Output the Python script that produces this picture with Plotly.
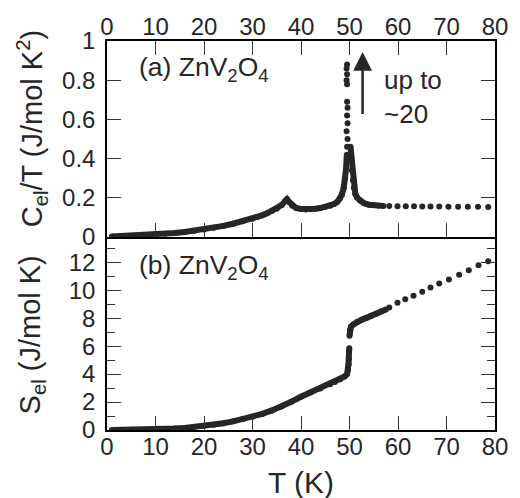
import plotly.graph_objects as go

# ---- data ----
# (a) C_el/T, dense low-T branch up to the transition
ct_T = [1, 3, 5, 7, 10, 12, 14, 16, 18, 20, 22, 24, 26, 28, 30, 31, 32, 33, 34, 35, 36,
        36.7, 37.1, 37.6, 38.2, 39.0, 40.0, 41.0, 42.0, 43.0, 44.0, 45.0, 46.0, 46.8,
        47.5, 48.0, 48.4, 48.8, 49.1, 49.3, 49.45]
ct_V = [0.003, 0.005, 0.007, 0.009, 0.013, 0.017, 0.021, 0.026, 0.032, 0.039, 0.047,
        0.057, 0.068, 0.080, 0.094, 0.102, 0.111, 0.121, 0.133, 0.145, 0.163,
        0.183, 0.193, 0.178, 0.160, 0.148, 0.143, 0.141, 0.142, 0.144, 0.148, 0.153,
        0.160, 0.168, 0.180, 0.195, 0.215, 0.25, 0.30, 0.35, 0.42]
# isolated points near the peak
pk_T = [49.5, 49.6, 49.4, 49.6, 49.5, 49.6, 49.5, 49.5, 49.4, 49.5, 49.4, 49.5]
pk_V = [0.46, 0.50, 0.54, 0.58, 0.62, 0.66, 0.69, 0.78, 0.80, 0.83, 0.86, 0.88]
# high-T branch, dense part
hb_T = [50.2, 50.4, 50.5, 50.7, 50.9, 51.2, 51.6, 52.2, 53.0, 54.0, 55.0, 56.0, 57.0]
hb_V = [0.46, 0.40, 0.34, 0.29, 0.25, 0.22, 0.20, 0.185, 0.172, 0.165, 0.162, 0.160, 0.159]
# sparse points at high T
sp_T = [58.2, 59.9, 61.6, 63.3, 65.0, 66.7, 68.5, 70.4, 72.4, 74.4, 76.5, 78.6]
sp_V = [0.158, 0.157, 0.157, 0.157, 0.156, 0.156, 0.156, 0.155, 0.155, 0.154, 0.154, 0.153]

# (b) S_el
s_T = [1, 3, 5, 8, 10, 12, 14, 16, 18, 20, 22, 24, 26, 28, 30, 32, 34, 36, 38, 40, 42,
       44, 46, 47, 48, 49, 49.5, 49.7, 49.8, 49.85, 49.9, 49.95]
s_V = [0.0, 0.005, 0.01, 0.02, 0.04, 0.07, 0.10, 0.15, 0.21, 0.28, 0.37, 0.48, 0.62,
       0.78, 0.95, 1.15, 1.40, 1.68, 2.02, 2.38, 2.68, 2.97, 3.27, 3.44, 3.62, 3.82,
       4.0, 4.3, 4.7, 5.1, 5.5, 5.85]
s2_T = [50.0, 50.1, 50.3, 50.8, 51.5, 52.5, 53.5, 54.5, 55.5, 56.5, 57.5]
s2_V = [6.75, 7.15, 7.38, 7.55, 7.72, 7.88, 8.02, 8.17, 8.32, 8.47, 8.62]
s3_T = [58.2, 59.9, 61.5, 63.2, 65.0, 66.7, 68.5, 70.5, 72.6, 74.6, 76.6, 78.6]
s3_V = [8.76, 9.10, 9.36, 9.60, 9.88, 10.19, 10.48, 10.76, 11.10, 11.43, 11.79, 12.07]

x_ticks = [0, 10, 20, 30, 40, 50, 60, 70, 80]

INK = "#262626"
FONT = "Liberation Sans, Arial, Helvetica, sans-serif"

fig = go.Figure()

def dense(x, y, xa, ya):
    fig.add_trace(go.Scatter(x=x, y=y, xaxis=xa, yaxis=ya, mode="lines+markers",
                             line=dict(color=INK, width=6),
                             marker=dict(color=INK, size=6), showlegend=False))

def dots(x, y, xa, ya):
    fig.add_trace(go.Scatter(x=x, y=y, xaxis=xa, yaxis=ya, mode="markers",
                             marker=dict(color=INK, size=6), showlegend=False))

dense(ct_T, ct_V, "x", "y")
dots(pk_T, pk_V, "x", "y")
dense(hb_T, hb_V, "x", "y")
dots(sp_T, sp_V, "x", "y")
dense(s_T, s_V, "x2", "y2")
dense(s2_T, s2_V, "x2", "y2")
dots(s3_T, s3_V, "x2", "y2")

SPLIT = 0.496
axcommon = dict(showline=True, linecolor="black", linewidth=1.5, ticks="inside",
                ticklen=14, tickwidth=1.3, tickcolor="#333", showgrid=False,
                zeroline=False, tickfont=dict(family=FONT, size=24, color=INK))

fig.update_layout(
    width=520, height=498,
    margin=dict(l=107, r=17, t=41, b=68),
    paper_bgcolor="white", plot_bgcolor="white",
    font=dict(family=FONT, color=INK),
    xaxis=dict(axcommon, domain=[0, 1], anchor="y", side="top", range=[0, 80],
               tickvals=x_ticks, mirror="ticks", ticklabelstandoff=-5),
    yaxis=dict(axcommon, domain=[SPLIT, 1], anchor="x", range=[0, 1], dtick=0.2,
               mirror="ticks", ticklabelstandoff=5),
    xaxis2=dict(axcommon, domain=[0, 1], anchor="y2", range=[0, 80],
                tickvals=x_ticks, mirror=False, ticklabelstandoff=-6),
    yaxis2=dict(axcommon, domain=[0, SPLIT], anchor="x2", range=[0, 13.8], dtick=2,
                mirror="ticks", ticklabelstandoff=5,
                minor=dict(dtick=1, ticks="inside", ticklen=8, tickcolor="#333",
                           tickwidth=1.3)),
)

ann = []
ann.append(dict(text="C<sub>el</sub>/T (J/mol K<sup>2</sup>)", xref="paper", yref="paper",
                x=-0.194, y=0.775, textangle=-90, showarrow=False,
                xanchor="center", yanchor="middle",
                font=dict(family=FONT, size=29, color=INK)))
ann.append(dict(text="S<sub>el</sub> (J/mol K)", xref="paper", yref="paper",
                x=-0.194, y=0.245, textangle=-90, showarrow=False,
                xanchor="center", yanchor="middle",
                font=dict(family=FONT, size=29, color=INK)))
ann.append(dict(text="T (K)", xref="paper", yref="paper", x=0.5, y=-0.134,
                showarrow=False, xanchor="center", yanchor="middle",
                font=dict(family=FONT, size=30, color=INK)))
ann.append(dict(text="(a) ZnV<sub>2</sub>O<sub>4</sub>", xref="paper", yref="paper",
                x=0.078, y=0.928, showarrow=False, xanchor="left", yanchor="middle",
                font=dict(family=FONT, size=26.5, color=INK)))
ann.append(dict(text="(b) ZnV<sub>2</sub>O<sub>4</sub>", xref="paper", yref="paper",
                x=0.078, y=0.418, showarrow=False, xanchor="left", yanchor="middle",
                font=dict(family=FONT, size=26.5, color=INK)))
ann.append(dict(text="up to<br>~20", xref="x", yref="y", x=56.8, y=0.714,
                showarrow=False, xanchor="left", yanchor="middle", align="left",
                font=dict(family=FONT, size=26, color=INK)))
ann.append(dict(text="", xref="x", yref="y", x=52.7, y=0.944, ax=52.7, ay=0.62,
                axref="x", ayref="y", showarrow=True, arrowhead=2, arrowsize=1.5,
                arrowwidth=2.5, arrowcolor=INK))
fig.update_layout(annotations=ann)

fig.write_html("out.html", config={"displayModeBar": False},
               post_script="document.body.style.margin='0';")
